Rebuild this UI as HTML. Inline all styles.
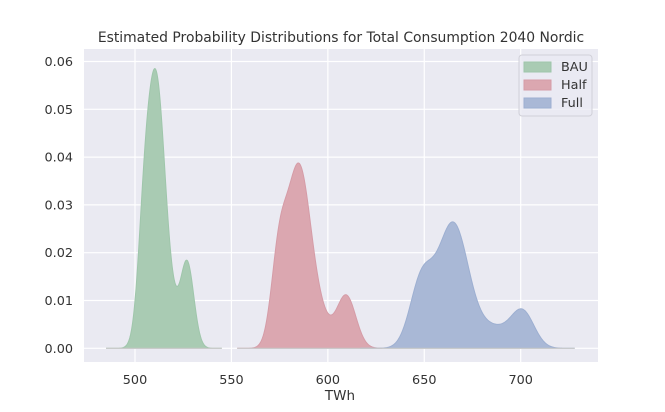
<!DOCTYPE html>
<html><head><meta charset="utf-8"><style>
body{margin:0;background:#fff;}
svg{font-family:"DejaVu Sans","Liberation Sans",sans-serif;}
</style></head><body>
<svg id="s" width="665" height="407" xmlns="http://www.w3.org/2000/svg">
<rect x="84" y="49" width="514" height="313" fill="#eaeaf2"/>
<g id="grid" stroke="#fff" stroke-width="1.2"></g>
<g id="curves"></g>
<g id="ticks" font-size="12.8" fill="#333"></g>
<text x="341" y="42" font-size="13.9" fill="#333" text-anchor="middle">Estimated Probability Distributions for Total Consumption 2040 Nordic</text>
<text x="340" y="400" font-size="13.5" fill="#333" text-anchor="middle">TWh</text>
<g>
<rect x="519" y="55" width="73" height="61" rx="3" fill="#eaeaf2" fill-opacity="0.8" stroke="#d0d0d8"/>
<rect x="524" y="62" width="27" height="10" fill="#a9cbb3" stroke="#9fc6ab"/>
<rect x="524" y="80" width="27" height="10" fill="#dba7b0" stroke="#d59ca7"/>
<rect x="524" y="98" width="27" height="10" fill="#a9b8d6" stroke="#9dafd1"/>
<text x="561" y="71" font-size="12.8" fill="#333">BAU</text>
<text x="561" y="89" font-size="12.8" fill="#333">Half</text>
<text x="561" y="107" font-size="12.8" fill="#333">Full</text>
</g>
</svg>
<script>
var X=function(v){return 135+(v-500)*1.9285;};
var Y=function(v){return 348.3-v*4780;};
var g=document.getElementById('grid'),t=document.getElementById('ticks'),h='',th='';
[500,550,600,650,700].forEach(function(v){h+='<line x1="'+X(v)+'" x2="'+X(v)+'" y1="49" y2="362"/>';th+='<text x="'+X(v)+'" y="384" text-anchor="middle">'+v+'</text>';});
[0,0.01,0.02,0.03,0.04,0.05,0.06].forEach(function(v){h+='<line x1="84" x2="598" y1="'+Y(v)+'" y2="'+Y(v)+'"/>';th+='<text x="73" y="'+(Y(v)+4.5)+'" text-anchor="end">'+v.toFixed(2)+'</text>';});
g.innerHTML=h;t.innerHTML=th;
function G(x,a,m,s){return a*Math.exp(-(x-m)*(x-m)/(2*s*s));}
var sets=[
 {r:[485,545],c:'#a9cbb3',e:'#9fc6ab',f:[[0.056,511,4.8],[0.016,504.5,3.2],[0.018,527,3.5],[0.003,520,3]]},
 {r:[553,628],c:'#dba7b0',e:'#d59ca7',f:[[0.038,585,6.3],[0.016,574.5,4],[0.011,609.5,5],[0.004,597,5]]},
 {r:[617,728],c:'#a9b8d6',e:'#9dafd1',f:[[0.026,665,8],[0.0135,648.5,6],[0.0075,701,6],[0.004,686,8]]}
];
var ch='';
sets.forEach(function(S){
 var p='M'+X(S.r[0])+','+Y(0);
 for(var x=S.r[0];x<=S.r[1];x+=0.25){var y=0;S.f.forEach(function(q){y+=G(x,q[0],q[1],q[2]);});p+=' L'+X(x).toFixed(2)+','+Y(y).toFixed(2);}
 p+=' L'+X(S.r[1])+','+Y(0)+' Z';
 ch+='<path d="'+p+'" fill="'+S.c+'" stroke="'+S.e+'" stroke-width="1"/>';
 ch+='<line x1="'+X(S.r[0])+'" x2="'+X(S.r[1])+'" y1="'+Y(0)+'" y2="'+Y(0)+'" stroke="#c8c8c8" stroke-width="1.2"/>';
});
document.getElementById('curves').innerHTML=ch;
</script>
</body></html>
